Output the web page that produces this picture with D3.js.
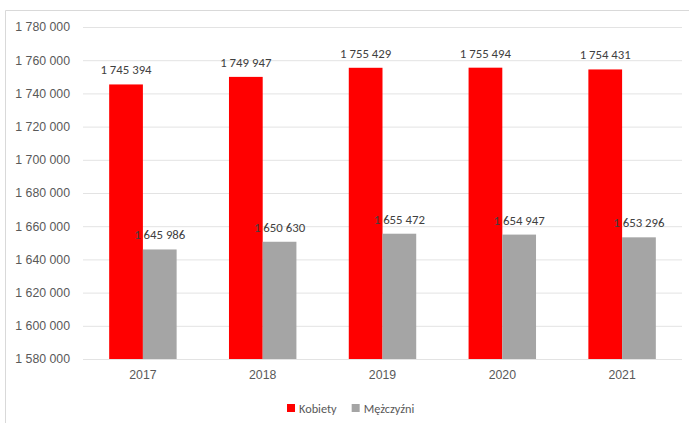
<!DOCTYPE html>
<html>
<head>
<meta charset="utf-8">
<script src="https://cdn.jsdelivr.net/npm/d3@7"></script>
<style>
  body { margin: 0; background: #fff; }
  svg { display: block; font-family: Calibri, Carlito, Lato, "DejaVu Sans", sans-serif; }
</style>
</head>
<body>
<div id="chart"></div>
<script>
// Chart data
const years = ['2017', '2018', '2019', '2020', '2021'];
const seriesNames = ['Kobiety', 'Mężczyźni'];
const kobiety = [1745394, 1749947, 1755429, 1755494, 1754431];
const mezczyzni = [1645986, 1650630, 1655472, 1654947, 1653296];
const yTicks = [1580000, 1600000, 1620000, 1640000, 1660000, 1680000, 1700000, 1720000, 1740000, 1760000, 1780000];
const colors = ['#ff0000', '#a5a5a5'];

const width = 689, height = 423;
const margin = {top: 27, right: 7, bottom: 64, left: 83};

const svg = d3.select('#chart').append('svg')
    .attr('width', width)
    .attr('height', height);

// Outer frame (top and left edges visible)
svg.append('path')
    .attr('d', `M5.5,${height} L5.5,10.5 L${width},10.5`)
    .attr('fill', 'none')
    .attr('stroke', '#d9d9d9');

const x0 = d3.scaleBand()
    .domain(years)
    .range([margin.left, width - margin.right])
    .paddingInner(0.437)
    .paddingOuter(0.2185);

const x1 = d3.scaleBand()
    .domain(seriesNames)
    .range([0, x0.bandwidth()]);

const y = d3.scaleLinear()
    .domain([1580000, 1780000])
    .range([height - margin.bottom, margin.top]);

const fmt = v => d3.format(',')(v).replace(/,/g, ' ');

// Gridlines + y labels
const yAxis = d3.axisLeft(y)
    .tickValues(yTicks)
    .tickSize(-(width - margin.left - margin.right))
    .tickPadding(13)
    .tickFormat(fmt);

const yAxisG = svg.append('g')
    .attr('transform', `translate(${margin.left},0)`)
    .call(yAxis);
yAxisG.select('.domain').remove();
yAxisG.selectAll('.tick line').attr('stroke', '#e3e3e3');
yAxisG.selectAll('.tick text')
    .attr('fill', '#595959')
    .style('font-size', '12.3px');

// x labels
const xAxisG = svg.append('g')
    .attr('transform', `translate(0,${height - margin.bottom})`)
    .call(d3.axisBottom(x0).tickSize(0).tickPadding(11));
xAxisG.select('.domain').remove();
xAxisG.selectAll('.tick text')
    .attr('fill', '#595959')
    .style('font-size', '12.3px');

// Bars
const rows = years.map((yr, i) => ({year: yr, values: [kobiety[i], mezczyzni[i]]}));

const groups = svg.append('g').selectAll('g')
    .data(rows)
    .join('g')
    .attr('transform', d => `translate(${x0(d.year)},0)`);

groups.selectAll('rect')
    .data(d => d.values.map((v, k) => ({key: seriesNames[k], value: v, k})))
    .join('rect')
    .attr('x', d => x1(d.key))
    .attr('y', d => y(d.value))
    .attr('width', x1.bandwidth())
    .attr('height', d => y(1580000) - y(d.value))
    .attr('fill', d => colors[d.k]);

// Value labels (drawn on top of all bars)
const labels = svg.append('g');
rows.forEach(r => {
  r.values.forEach((v, k) => {
    labels.append('text')
      .attr('x', x0(r.year) + x1(seriesNames[k]) + x1.bandwidth() / 2)
      .attr('y', y(v) - 10)
      .attr('text-anchor', 'middle')
      .attr('fill', '#404040')
      .style('font-size', '12.8px')
      .text(fmt(v));
  });
});

// Legend
const legend = svg.append('g').attr('transform', 'translate(287,408)');
let lx = 0;
seriesNames.forEach((name, k) => {
  legend.append('rect')
    .attr('x', lx)
    .attr('y', -4)
    .attr('width', 8)
    .attr('height', 8)
    .attr('fill', colors[k]);
  const t = legend.append('text')
    .attr('x', lx + 12)
    .attr('y', 4.5)
    .attr('fill', '#595959')
    .style('font-size', '12.3px')
    .text(name);
  lx += 12 + t.node().getComputedTextLength() + 15;
});
</script>
</body>
</html>
